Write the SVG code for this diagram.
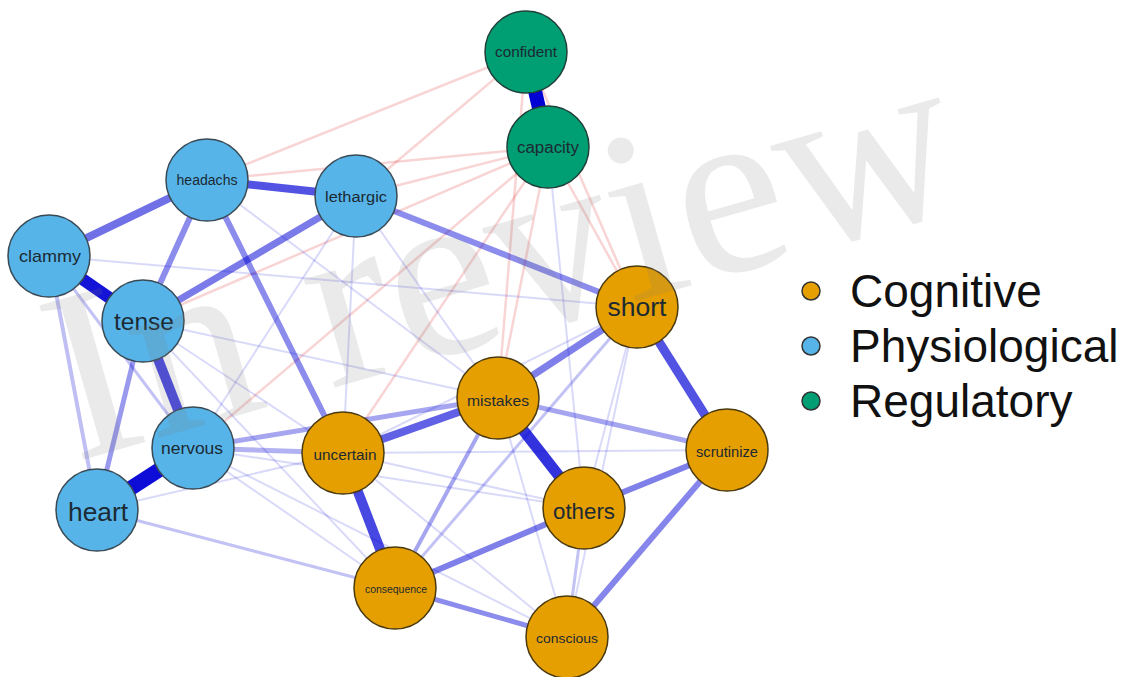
<svg xmlns="http://www.w3.org/2000/svg" width="1138" height="677" viewBox="0 0 1138 677">
<style>
.e{stroke:#0000D5;fill:none;stroke-linecap:butt}
.n{stroke:#D50000;stroke-opacity:0.17;stroke-width:2.5;fill:none}
.b circle{fill:#56B4E9;stroke:#3a4a55;stroke-width:1.5}
.o circle{fill:#E69F00;stroke:#4a3a10;stroke-width:1.5}
.g circle{fill:#009E73;stroke:#20403a;stroke-width:1.5}
text.l{font-family:"Liberation Sans",Arial,sans-serif;fill:#1c2a33;text-anchor:middle;dominant-baseline:central}
.leg{font-family:"Liberation Sans",Arial,sans-serif;font-size:46px;fill:#111}
.wm{font-family:"Liberation Serif","Times New Roman",serif;font-size:245px;fill:#7a7a7a;fill-opacity:0.16}
</style>
<rect width="1138" height="677" fill="#fff"/>
<g id="connectors">
<line class="n" x1="526" y1="52" x2="207" y2="180"/>
<line class="n" x1="526" y1="52" x2="356" y2="196"/>
<line class="n" x1="526" y1="52" x2="498" y2="398"/>
<line class="n" x1="526" y1="52" x2="637" y2="307"/>
<line class="n" x1="548" y1="147" x2="207" y2="180"/>
<line class="n" x1="548" y1="147" x2="356" y2="196"/>
<line class="n" x1="548" y1="147" x2="143" y2="321"/>
<line class="n" x1="548" y1="147" x2="193" y2="448"/>
<line class="n" x1="548" y1="147" x2="343" y2="453"/>
<line class="n" x1="548" y1="147" x2="498" y2="398"/>
<line class="n" x1="548" y1="147" x2="637" y2="307"/>
<g class="e" stroke-width="2" stroke-opacity="0.15">
<line x1="49" y1="256" x2="637" y2="307"/>
<line x1="143" y1="321" x2="498" y2="398"/>
<line x1="143" y1="321" x2="343" y2="453"/>
<line x1="143" y1="321" x2="395" y2="588"/>
<line x1="207" y1="180" x2="498" y2="398"/>
<line x1="356" y1="196" x2="343" y2="453"/>
<line x1="356" y1="196" x2="498" y2="398"/>
<line x1="356" y1="196" x2="193" y2="448"/>
<line x1="548" y1="147" x2="584" y2="508"/>
<line x1="193" y1="448" x2="584" y2="508"/>
<line x1="193" y1="448" x2="395" y2="588"/>
<line x1="193" y1="448" x2="567" y2="637"/>
<line x1="97" y1="510" x2="343" y2="453"/>
<line x1="343" y1="453" x2="584" y2="508"/>
<line x1="343" y1="453" x2="567" y2="637"/>
<line x1="343" y1="453" x2="727" y2="450"/>
<line x1="498" y1="398" x2="567" y2="637"/>
<line x1="637" y1="307" x2="584" y2="508"/>
<line x1="637" y1="307" x2="567" y2="637"/>
<line x1="637" y1="307" x2="343" y2="453"/>
</g>
<g class="e" stroke-width="3" stroke-opacity="0.24">
<line x1="49" y1="256" x2="193" y2="448"/>
<line x1="637" y1="307" x2="395" y2="588"/>
<line x1="584" y1="508" x2="567" y2="637"/>
<line x1="97" y1="510" x2="395" y2="588"/>
</g>
<g class="e">
<line x1="49" y1="256" x2="97" y2="510" stroke-width="4" stroke-opacity="0.25"/>
<line x1="395" y1="588" x2="498" y2="398" stroke-width="4" stroke-opacity="0.35"/>
<line x1="143" y1="321" x2="97" y2="510" stroke-width="5" stroke-opacity="0.4"/>
<line x1="498" y1="398" x2="727" y2="450" stroke-width="5" stroke-opacity="0.35"/>
<line x1="193" y1="448" x2="343" y2="453" stroke-width="5" stroke-opacity="0.3"/>
<line x1="193" y1="448" x2="498" y2="398" stroke-width="5" stroke-opacity="0.35"/>
<line x1="395" y1="588" x2="567" y2="637" stroke-width="5" stroke-opacity="0.45"/>
<line x1="727" y1="450" x2="567" y2="637" stroke-width="6" stroke-opacity="0.48"/>
<line x1="584" y1="508" x2="395" y2="588" stroke-width="6" stroke-opacity="0.5"/>
<line x1="584" y1="508" x2="727" y2="450" stroke-width="6" stroke-opacity="0.5"/>
<line x1="207" y1="180" x2="343" y2="453" stroke-width="6" stroke-opacity="0.45"/>
<line x1="207" y1="180" x2="143" y2="321" stroke-width="6" stroke-opacity="0.45"/>
<line x1="356" y1="196" x2="637" y2="307" stroke-width="6" stroke-opacity="0.45"/>
<line x1="498" y1="398" x2="637" y2="307" stroke-width="7" stroke-opacity="0.5"/>
<line x1="143" y1="321" x2="356" y2="196" stroke-width="7" stroke-opacity="0.52"/>
<line x1="49" y1="256" x2="207" y2="180" stroke-width="8" stroke-opacity="0.56"/>
<line x1="343" y1="453" x2="498" y2="398" stroke-width="8" stroke-opacity="0.62"/>
<line x1="207" y1="180" x2="356" y2="196" stroke-width="8" stroke-opacity="0.68"/>
<line x1="637" y1="307" x2="727" y2="450" stroke-width="9" stroke-opacity="0.68"/>
<line x1="343" y1="453" x2="395" y2="588" stroke-width="10" stroke-opacity="0.72"/>
<line x1="143" y1="321" x2="193" y2="448" stroke-width="10" stroke-opacity="0.72"/>
<line x1="498" y1="398" x2="584" y2="508" stroke-width="11" stroke-opacity="0.8"/>
<line x1="526" y1="52" x2="548" y2="147" stroke-width="14" stroke-opacity="1"/>
<line x1="49" y1="256" x2="143" y2="321" stroke-width="12" stroke-opacity="0.92"/>
<line x1="97" y1="510" x2="193" y2="448" stroke-width="15" stroke-opacity="0.95"/>
</g>
</g>
<g id="confident" class="g"><circle cx="526" cy="52" r="41"/><text class="l" x="526" y="52" font-size="14.5" textLength="62" lengthAdjust="spacingAndGlyphs">confident</text></g>
<g id="capacity" class="g"><circle cx="548" cy="147" r="41"/><text class="l" x="548" y="147" font-size="16" textLength="62" lengthAdjust="spacingAndGlyphs">capacity</text></g>
<g id="headachs" class="b"><circle cx="207" cy="180" r="41"/><text class="l" x="207" y="180" font-size="14" textLength="61" lengthAdjust="spacingAndGlyphs">headachs</text></g>
<g id="lethargic" class="b"><circle cx="356" cy="196" r="41"/><text class="l" x="356" y="196" font-size="15.5" textLength="62" lengthAdjust="spacingAndGlyphs">lethargic</text></g>
<g id="clammy" class="b"><circle cx="49" cy="256" r="41"/><text class="l" x="50" y="256" font-size="17" textLength="62" lengthAdjust="spacingAndGlyphs">clammy</text></g>
<g id="tense" class="b"><circle cx="143" cy="321" r="41"/><text class="l" x="144" y="321" font-size="24" textLength="60" lengthAdjust="spacingAndGlyphs">tense</text></g>
<g id="nervous" class="b"><circle cx="193" cy="448" r="41"/><text class="l" x="192" y="448" font-size="16.5" textLength="62" lengthAdjust="spacingAndGlyphs">nervous</text></g>
<g id="heart" class="b"><circle cx="97" cy="510" r="41"/><text class="l" x="98" y="512" font-size="26" textLength="60" lengthAdjust="spacingAndGlyphs">heart</text></g>
<g id="uncertain" class="o"><circle cx="343" cy="453" r="41"/><text class="l" x="345" y="455" font-size="14" textLength="63" lengthAdjust="spacingAndGlyphs">uncertain</text></g>
<g id="mistakes" class="o"><circle cx="498" cy="398" r="41"/><text class="l" x="498" y="400" font-size="15" textLength="62" lengthAdjust="spacingAndGlyphs">mistakes</text></g>
<g id="short" class="o"><circle cx="637" cy="307" r="41"/><text class="l" x="637" y="307" font-size="26" textLength="59" lengthAdjust="spacingAndGlyphs">short</text></g>
<g id="scrutinize" class="o"><circle cx="727" cy="450" r="41"/><text class="l" x="727" y="452" font-size="14" textLength="62" lengthAdjust="spacingAndGlyphs">scrutinize</text></g>
<g id="others" class="o"><circle cx="584" cy="508" r="41"/><text class="l" x="584" y="511" font-size="22" textLength="62" lengthAdjust="spacingAndGlyphs">others</text></g>
<g id="consequence" class="o"><circle cx="395" cy="588" r="41"/><text class="l" x="396" y="589" font-size="10.5" textLength="62" lengthAdjust="spacingAndGlyphs">consequence</text></g>
<g id="conscious" class="o"><circle cx="567" cy="637" r="41"/><text class="l" x="567" y="638" font-size="13.5" textLength="62" lengthAdjust="spacingAndGlyphs">conscious</text></g>
<g id="legend">
<circle cx="811" cy="291" r="9" fill="#E69F00" stroke="#333" stroke-width="1.5"/>
<circle cx="811" cy="346" r="9" fill="#56B4E9" stroke="#333" stroke-width="1.5"/>
<circle cx="811" cy="401" r="9" fill="#009E73" stroke="#333" stroke-width="1.5"/>
<text class="leg" x="850" y="307">Cognitive</text>
<text class="leg" x="850" y="362">Physiological</text>
<text class="leg" x="850" y="417">Regulatory</text>
</g>
<text class="wm" x="75" y="462" transform="rotate(-16 75 462)">In review</text>
</svg>
